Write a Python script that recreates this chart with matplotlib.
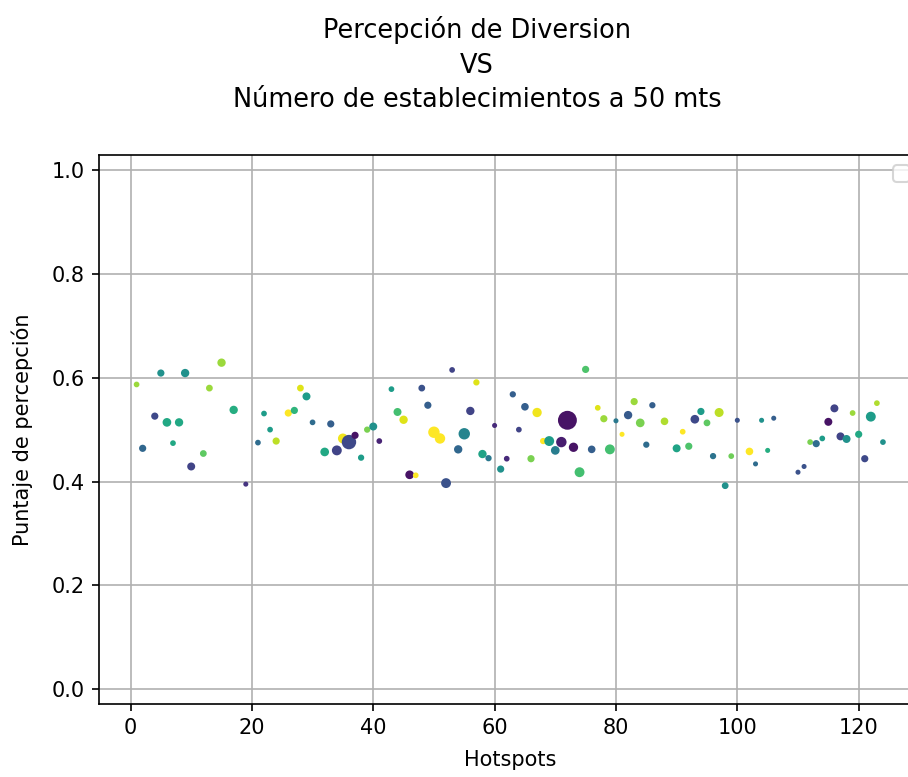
import matplotlib
matplotlib.use('Agg')
import matplotlib.pyplot as plt

# hotspot index, perception score, number of places (marker size), colour value
hotspots = [1, 2, 4, 5, 6, 7, 8, 9, 10, 12, 13, 15, 17, 19, 21, 22, 23, 24, 26, 27,
            28, 29, 30, 32, 33, 34, 35, 36, 37, 38, 39, 40, 41, 43, 44, 45, 46, 47, 48, 49,
            50, 51, 52, 53, 54, 55, 56, 57, 58, 59, 60, 61, 62, 63, 64, 65, 66, 67, 68, 69,
            70, 71, 72, 73, 74, 75, 76, 77, 78, 79, 80, 81, 82, 83, 84, 85, 86, 88, 90, 91,
            92, 93, 94, 95, 96, 97, 98, 99, 100, 102, 103, 104, 105, 106, 110, 111, 112, 113, 114, 115,
            116, 117, 118, 119, 120, 121, 122, 123, 124]
puntaje = [0.587, 0.464, 0.526, 0.609, 0.514, 0.474, 0.514, 0.609, 0.429, 0.454, 0.580, 0.629, 0.538, 0.395, 0.475, 0.531, 0.500, 0.478, 0.532, 0.537,
           0.580, 0.564, 0.514, 0.457, 0.511, 0.460, 0.483, 0.476, 0.489, 0.446, 0.500, 0.506, 0.478, 0.578, 0.534, 0.519, 0.413, 0.412, 0.580, 0.547,
           0.495, 0.483, 0.397, 0.615, 0.462, 0.492, 0.536, 0.591, 0.453, 0.445, 0.508, 0.424, 0.444, 0.568, 0.500, 0.544, 0.444, 0.533, 0.478, 0.478,
           0.460, 0.476, 0.518, 0.466, 0.418, 0.616, 0.462, 0.542, 0.521, 0.462, 0.517, 0.491, 0.528, 0.554, 0.513, 0.471, 0.547, 0.516, 0.464, 0.496,
           0.468, 0.520, 0.535, 0.513, 0.449, 0.533, 0.392, 0.449, 0.518, 0.458, 0.434, 0.518, 0.460, 0.522, 0.418, 0.429, 0.476, 0.473, 0.483, 0.515,
           0.541, 0.487, 0.482, 0.532, 0.491, 0.444, 0.525, 0.551, 0.476]
establecimientos = [3, 6, 6, 6, 10, 3, 9, 9, 8, 5, 5, 9, 9, 2, 3, 3, 3, 6, 6, 6,
                    5, 8, 3, 10, 6, 14, 14, 35, 6, 4, 4, 8, 3, 3, 8, 9, 10, 3, 5, 6,
                    20, 16, 14, 3, 9, 20, 9, 4, 9, 4, 2, 6, 3, 4, 3, 7, 6, 12, 4, 14,
                    10, 16, 65, 12, 14, 6, 7, 3, 6, 14, 2, 2, 9, 6, 10, 4, 4, 7, 8, 3,
                    6, 10, 6, 5, 4, 11, 5, 3, 2, 7, 2, 2, 2, 2, 2, 2, 3, 6, 3, 8,
                    8, 8, 8, 3, 6, 6, 14, 3, 3]
colores = [0.85, 0.33, 0.22, 0.5, 0.6, 0.6, 0.6, 0.5, 0.2, 0.75, 0.85, 0.85, 0.62, 0.15, 0.35, 0.55, 0.55, 0.9, 1.0, 0.65,
           0.95, 0.55, 0.35, 0.6, 0.3, 0.2, 0.98, 0.22, 0.05, 0.55, 0.8, 0.5, 0.1, 0.55, 0.7, 0.95, 0.05, 1.0, 0.25, 0.3,
           1.0, 1.0, 0.25, 0.2, 0.33, 0.45, 0.2, 0.95, 0.58, 0.4, 0.12, 0.5, 0.12, 0.3, 0.2, 0.3, 0.8, 0.98, 1.0, 0.55,
           0.42, 0.08, 0.05, 0.05, 0.7, 0.72, 0.3, 0.95, 0.85, 0.7, 0.4, 1.0, 0.28, 0.85, 0.8, 0.35, 0.3, 0.88, 0.58, 1.0,
           0.72, 0.22, 0.55, 0.75, 0.38, 0.9, 0.5, 0.78, 0.25, 1.0, 0.35, 0.5, 0.62, 0.3, 0.25, 0.25, 0.8, 0.35, 0.55, 0.05,
           0.2, 0.2, 0.5, 0.85, 0.6, 0.22, 0.55, 0.88, 0.5]

fig = plt.figure(figsize=(909 / 150, 777 / 150), dpi=150)
ax = fig.add_axes([0.1092, 0.0943, 0.9032, 0.7062])

ax.scatter(hotspots, puntaje, s=establecimientos, c=colores, cmap='viridis', vmin=0, vmax=1)
ax.set_ylim(-0.028, 1.029)
ax.grid(True)
ax.set_axisbelow(True)

ax.set_title('Percepción de Diversion\nVS\nNúmero de establecimientos a 50 mts',
             fontsize=12.3, pad=23, x=0.46, linespacing=1.42)
ax.set_xlabel('Hotspots', labelpad=5.5)
ax.set_ylabel('Puntaje de percepción', labelpad=9)
ax.legend()

fig.savefig('out.png', dpi=150)
